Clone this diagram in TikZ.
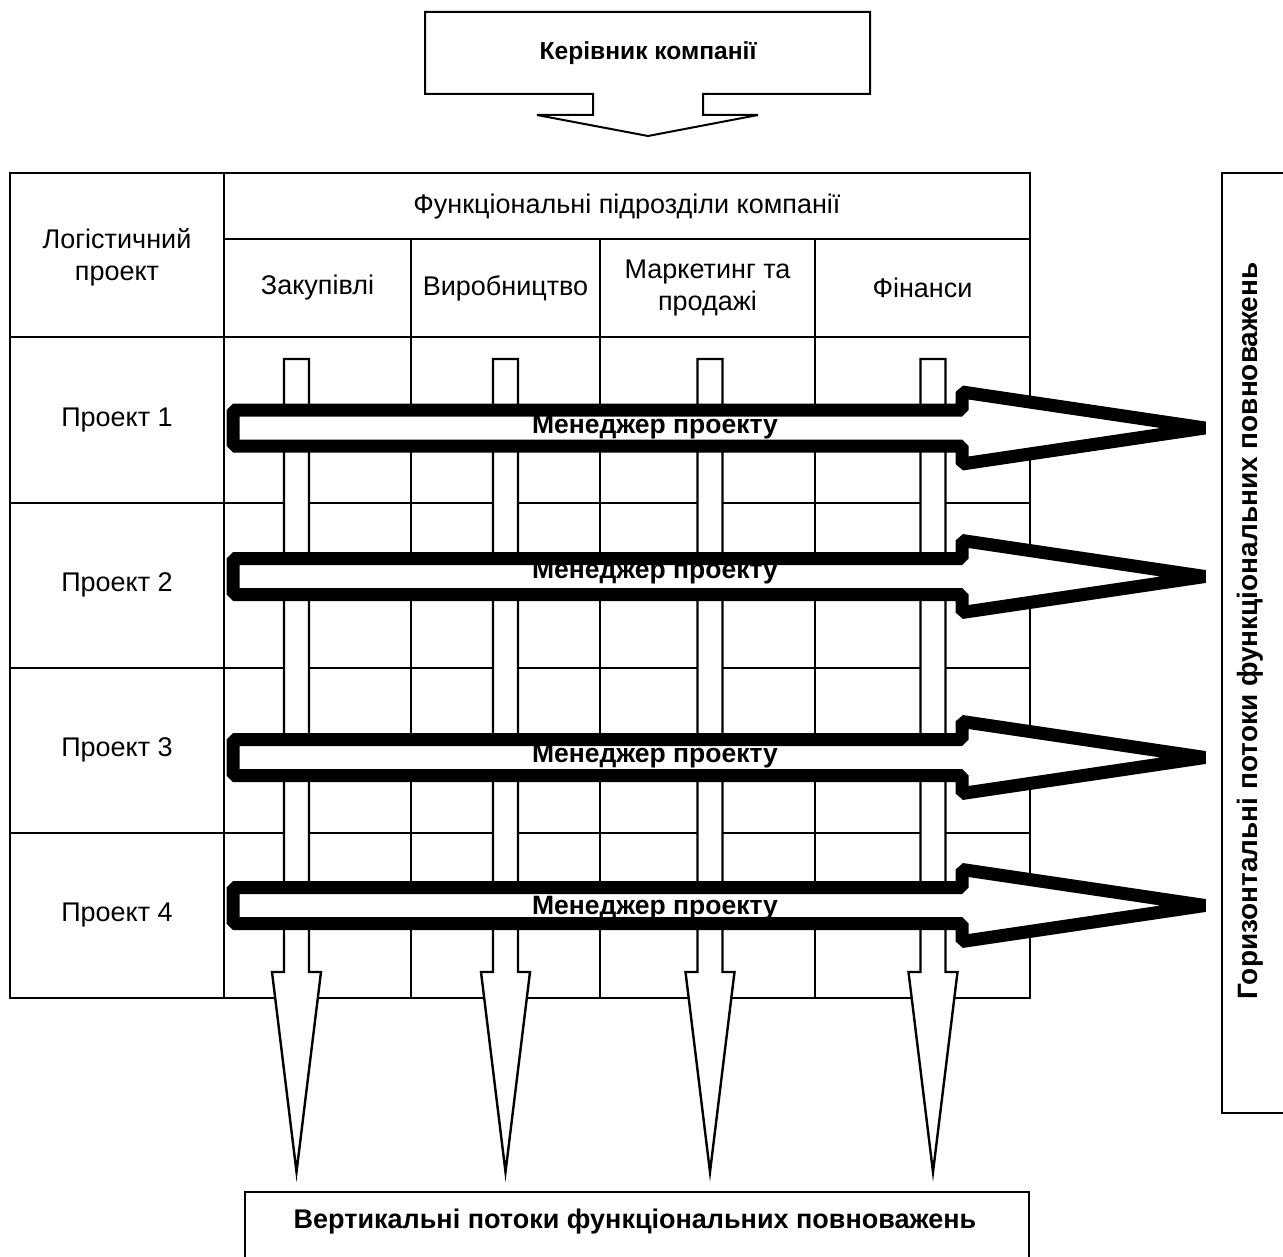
\documentclass[tikz,border=0pt]{standalone}
\usepackage{fontspec}
\setmainfont{Liberation Sans}
\begin{document}
\begin{tikzpicture}[x=1pt,y=-1pt,
  gridline/.style={line width=1.4pt},
  topshape/.style={line width=2pt, line join=miter, fill=white},
  vshape/.style={line width=2.4pt, line join=miter, fill=white},
  hshape/.style={line width=13pt, line join=bevel, fill=white},
  lbl/.style={font=\fontsize{27}{32}\selectfont, align=center, inner sep=0pt},
  blbl/.style={font=\bfseries\fontsize{26.5}{30}\selectfont, inner sep=0pt},
  sidebox/.style={line width=1.6pt}]
\clip (0,0) rectangle (1283,1257);
\fill[white] (0,0) rectangle (1283,1257);

% top box with arrow
\draw[topshape] (425,12) -- (870,12) -- (870,94) -- (703,94) -- (703,115) -- (758,115)
  -- (648,136) -- (537,115) -- (593,115) -- (593,94) -- (425,94) -- cycle;
\node[blbl, font=\bfseries\fontsize{24.6}{30}\selectfont] (boss) at (648,53) {Керівник компанії};

% table grid
\draw[gridline] (10,173) rectangle (1030,998);
\draw[gridline] (224,173) -- (224,998);
\draw[gridline] (224,239) -- (1030,239);
\foreach \yy in {337,503,668,833} \draw[gridline] (10,\yy) -- (1030,\yy);
\foreach \xx in {411,600,815} \draw[gridline] (\xx,239) -- (\xx,998);

% header texts
\node[lbl] (logp) at (117,257) {Логістичний\\проект};
\node[lbl] (func) at (627,207) {Функціональні підрозділи компанії};
\node[lbl] (c1) at (317.5,288) {Закупівлі};
\node[lbl] (c2) at (505.5,288) {Виробництво};
\node[lbl] (c3) at (707.5,288) {Маркетинг та\\продажі};
\node[lbl] (c4) at (922.5,288) {Фінанси};
\node[lbl] (p1) at (117,420) {Проект 1};
\node[lbl] (p2) at (117,585) {Проект 2};
\node[lbl] (p3) at (117,750) {Проект 3};
\node[lbl] (p4) at (117,915) {Проект 4};

% vertical arrows
\foreach \cx in {296.5,505.5,710,933} {
  \draw[vshape] (\cx-12.5,359) -- (\cx+12.5,359) -- (\cx+12.5,972) -- (\cx+24.5,972)
    -- (\cx,1172) -- (\cx-24.5,972) -- (\cx-12.5,972) -- cycle;
}

% horizontal arrows
\foreach \yc/\yb/\nm in {428/433/m1,576.5/578/m2,757.5/762/m3,905.5/914/m4} {
  \draw[hshape] (233,\yc-18) -- (962,\yc-18) -- (962,\yc-36) -- (1205,\yc)
    -- (962,\yc+36) -- (962,\yc+18) -- (233,\yc+18) -- cycle;
  \node[blbl, anchor=base] (\nm) at (655,\yb) {Менеджер проекту};
}

% right box
\draw[sidebox] (1222,173) rectangle (1300,1113);
\node[blbl, font=\bfseries\fontsize{28}{32}\selectfont, rotate=90] (horiz) at (1250,631) {Горизонтальні потоки функціональних повноважень};

% bottom box
\draw[sidebox] (245,1192) rectangle (1029,1270);
\node[blbl, font=\bfseries\fontsize{27}{32}\selectfont] (vert) at (635,1222) {Вертикальні потоки функціональних повноважень};
\end{tikzpicture}
\end{document}
